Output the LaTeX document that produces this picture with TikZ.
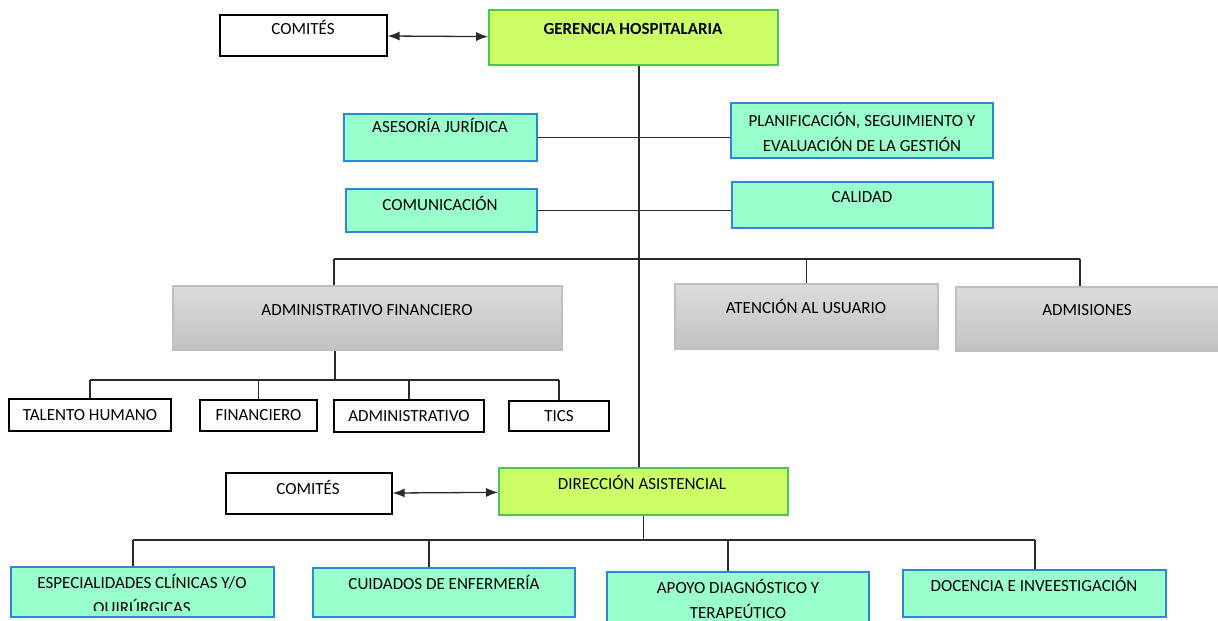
\documentclass[tikz,border=0pt]{standalone}
\usepackage{fontspec}
\setmainfont{Carlito}
\usetikzlibrary{arrows.meta}
\definecolor{limefill}{HTML}{CCFF66}
\definecolor{limeline}{HTML}{4CC552}
\definecolor{mintfill}{HTML}{99FFCC}
\definecolor{mintline}{HTML}{2E86D6}
\definecolor{greytop}{HTML}{DCDCDC}
\definecolor{greybot}{HTML}{C2C2C2}
\definecolor{greyline}{HTML}{BFBFBF}
\definecolor{wirecol}{HTML}{2A2A2A}
\begin{document}
\begin{tikzpicture}[x=0.5pt, y=-0.5pt, every node/.style={font=\fontsize{8.5}{12.5}\selectfont}]
\tikzset{
  whitebox/.style={draw=black,fill=white,line width=0.6pt},
  headbox/.style={draw=limeline,fill=limefill,line width=0.8pt},
  mintbox/.style={draw=mintline,fill=mintfill,line width=0.7pt},
  greybox/.style={draw=greyline,top color=greytop,bottom color=greybot,line width=0.6pt},
  leafbox/.style={draw=black,fill=white,line width=0.6pt,inner sep=0pt},
  lbl/.style={anchor=base,inner sep=0pt},
  lbltwo/.style={align=center,inner sep=0pt},
  wire/.style={draw=wirecol,line width=0.65pt},
  twohead/.style={{Latex[length=6pt,width=4.5pt]}-{Latex[length=6pt,width=4.5pt]}}
}
\useasboundingbox (0,0) rectangle (1218,620);
\clip (0,0) rectangle (1218,620);
% gerencia
\node[whitebox,minimum width=83.5pt,minimum height=20.5pt] (com1) at (303.5,35.5) {};
\node[lbl] (com1t) at (303,35) {COMITÉS};
\node[headbox,minimum width=144.5pt,minimum height=27.5pt] (ger) at (633.5,37.5) {};
\node[lbl,font=\fontsize{8.5}{12.5}\selectfont\bfseries] (gert) at (633,35) {GERENCIA HOSPITALARIA};
\draw[wire,twohead] (com1) -- (ger);
% staff
\node[mintbox,minimum width=96.5pt,minimum height=23.5pt] (ases) at (440.5,137.5) {};
\node[lbl] (asest) at (440,133) {ASESORÍA JURÍDICA};
\node[mintbox,minimum width=131pt,minimum height=27.5pt] (plan) at (862,130.5) {};
\node[lbltwo] (plant) at (862,131.5) {PLANIFICACIÓN, SEGUIMIENTO Y\\EVALUACIÓN DE LA GESTIÓN};
\node[mintbox,minimum width=95.5pt,minimum height=21.5pt] (comu) at (441.5,210.5) {};
\node[lbl] (comut) at (440,211) {COMUNICACIÓN};
\node[mintbox,minimum width=130.5pt,minimum height=23pt] (cal) at (862.5,205) {};
\node[lbl] (calt) at (862,203) {CALIDAD};
\coordinate (trunk) at (639,0);
\draw[wire] (ases.east) -- (ases.east -| plan.west);
\draw[wire] (comu.east) -- (comu.east -| cal.west);
% areas
\node[greybox,minimum width=194.5pt,minimum height=32pt] (adm) at (367.5,318) {};
\node[lbl] (admt) at (367,315) {ADMINISTRATIVO FINANCIERO};
\node[greybox,minimum width=131.5pt,minimum height=32.5pt] (ate) at (806.5,316.5) {};
\node[lbl] (atet) at (806,313) {ATENCIÓN AL USUARIO};
\node[greybox,minimum width=133pt,minimum height=32pt] (admi) at (1089,319) {};
\node[lbl] (admit) at (1087,315) {ADMISIONES};
\coordinate (b1l) at (334,259);
\coordinate (b1r) at (1080,259);
\draw[wire] (b1l) -- (b1r);
\draw[wire] (b1l) -- (b1l |- adm.north);
\draw[wire] (ate.north) -- (ate.north |- b1l);
\draw[wire] (b1r) -- (b1r |- admi.north);
\node[leafbox,minimum width=81pt,minimum height=16pt] (tal) at (90,415) {TALENTO HUMANO};
\node[leafbox,minimum width=58.5pt,minimum height=15.5pt] (fin) at (258.5,415.5) {FINANCIERO};
\node[leafbox,minimum width=75pt,minimum height=16pt] (admv) at (409,416) {ADMINISTRATIVO};
\node[leafbox,minimum width=50pt,minimum height=15pt] (tics) at (559,416) {TICS};
\coordinate (b2) at (335,380);
\draw[wire] (b2 |- adm.south) -- (b2);
\draw[wire] (tal.north |- b2) -- (tics.north |- b2);
\foreach \c in {tal,fin,admv,tics}
  \draw[wire] (\c.north) -- (\c.north |- b2);
% direccion asistencial
\node[whitebox,minimum width=83pt,minimum height=20.5pt] (com2) at (309,493.5) {};
\node[lbl] (com2t) at (308,494) {COMITÉS};
\node[headbox,minimum width=144.5pt,minimum height=23.5pt] (dir) at (643.5,491.5) {};
\node[lbl] (dirt) at (642,489) {DIRECCIÓN ASISTENCIAL};
\draw[wire,twohead] (com2) -- (dir);
\draw[wire] (ger.south -| trunk) -- (dir.north -| trunk);
\node[mintbox,minimum width=131.5pt,minimum height=25pt] (esp) at (142.5,592) {};
\begin{scope}
  \clip (esp.north west) rectangle ([yshift=3.5pt]esp.south east);
  \node[lbltwo] (espt) at (142,595) {ESPECIALIDADES CLÍNICAS Y/O\\QUIRÚRGICAS};
\end{scope}
\node[mintbox,minimum width=131pt,minimum height=24.5pt] (cui) at (444,592.5) {};
\node[lbl] (cuit) at (444,589) {CUIDADOS DE ENFERMERÍA};
\node[mintbox,minimum width=131pt,minimum height=30pt] (apo) at (738,602) {};
\node[lbltwo] (apot) at (738,599) {APOYO DIAGNÓSTICO Y\\TERAPEÚTICO};
\node[mintbox,minimum width=131.5pt,minimum height=23.5pt] (doc) at (1034.5,593.5) {};
\node[lbl] (doct) at (1034,591) {DOCENCIA E INVEESTIGACIÓN};
\coordinate (b3l) at (133,540);
\coordinate (b3r) at (1035,540);
\draw[wire] (dir.south) -- (dir.south |- b3l);
\draw[wire] (b3l) -- (b3r);
\foreach \c/\xx in {esp/133,cui/429,apo/728,doc/1035}{
  \coordinate (d) at (\xx,540);
  \draw[wire] (d) -- (d |- \c.north);
}
\end{tikzpicture}
\end{document}
